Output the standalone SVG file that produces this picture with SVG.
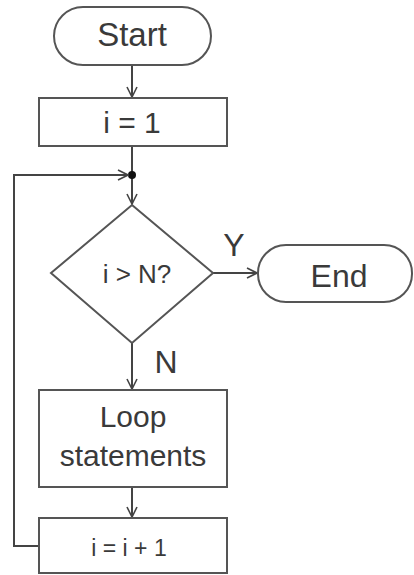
<svg xmlns="http://www.w3.org/2000/svg" width="414" height="575" viewBox="0 0 414 575">
<style>
.shape{fill:#fff;stroke:#555;stroke-width:2}
.line{fill:none;stroke:#444;stroke-width:2}
.t{font-family:"Liberation Sans","DejaVu Sans",sans-serif;fill:#3a3a3a;text-anchor:middle}
</style>
<defs>
<marker id="arr" viewBox="0 0 12 12" refX="11" refY="6" markerWidth="12" markerHeight="12" markerUnits="userSpaceOnUse" orient="auto">
<polyline points="1,1 11,6 1,11" fill="none" stroke="#444" stroke-width="1.6"/>
</marker>
</defs>
<rect width="414" height="575" fill="#fff"/>
<g id="connectors">
<line class="line" x1="132" y1="65" x2="132" y2="97" marker-end="url(#arr)"/>
<line class="line" x1="132" y1="146" x2="132" y2="175"/>
<line class="line" x1="132" y1="175" x2="132" y2="204" marker-end="url(#arr)"/>
<circle cx="132" cy="175" r="4" fill="#111"/>
<polyline class="line" points="39,546 14,546 14,175 128,175" marker-end="url(#arr)"/>
<line class="line" x1="213" y1="273" x2="257" y2="273" marker-end="url(#arr)"/>
<line class="line" x1="132" y1="343" x2="132" y2="389" marker-end="url(#arr)"/>
<line class="line" x1="132" y1="487" x2="132" y2="517" marker-end="url(#arr)"/>
<text class="t" x="234" y="256" font-size="32">Y</text>
<text class="t" x="166" y="373" font-size="32">N</text>
</g>
<g id="start">
<rect class="shape" x="54" y="7" width="157" height="58" rx="29" ry="29"/>
<text class="t" x="132" y="46" font-size="33">Start</text>
</g>
<g id="init">
<rect class="shape" x="39" y="98" width="188" height="48"/>
<text class="t" x="132" y="133" font-size="30">i = 1</text>
</g>
<g id="decision">
<polygon class="shape" points="132,205 213,273 132,343 51,273"/>
<text class="t" x="137" y="283" font-size="26">i &gt; N?</text>
</g>
<g id="end">
<rect class="shape" x="258" y="245" width="154" height="57" rx="28" ry="28"/>
<text class="t" x="339" y="287" font-size="32">End</text>
</g>
<g id="loop">
<rect class="shape" x="39" y="390" width="188" height="97"/>
<text class="t" x="133" y="427" font-size="30">Loop</text>
<text class="t" x="133" y="466" font-size="30">statements</text>
</g>
<g id="incr">
<rect class="shape" x="39" y="518" width="188" height="55"/>
<text class="t" x="129" y="556" font-size="23">i = i + 1</text>
</g>
</svg>
